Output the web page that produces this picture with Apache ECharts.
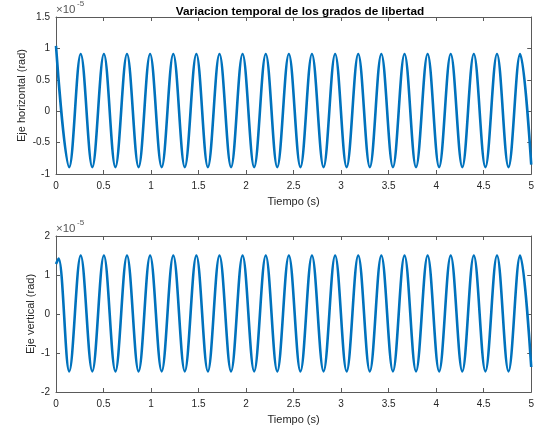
<!DOCTYPE html>
<html>
<head>
<meta charset="utf-8">
<script src="https://cdn.jsdelivr.net/npm/echarts@6/dist/echarts.min.js"></script>
<style>
html,body{margin:0;padding:0;background:#fff;}
#c{width:537px;height:433px;}
</style>
</head>
<body>
<div id="c"></div>
<script>
// Times (s) of the peaks / troughs, plus the final sample at t = 5
const tiempoPicos = [0.139, 0.260, 0.382, 0.504, 0.625, 0.747, 0.869, 0.990, 1.112, 1.234,
  1.355, 1.477, 1.598, 1.720, 1.842, 1.963, 2.085, 2.207, 2.328, 2.450,
  2.572, 2.693, 2.815, 2.937, 3.058, 3.180, 3.302, 3.423, 3.545, 3.667,
  3.788, 3.910, 4.031, 4.153, 4.275, 4.396, 4.518, 4.640, 4.761, 4.883, 5.0];

// Horizontal DOF (x 1e-5 rad): start value, then trough/peak values, then the end value
const tiempoH = [0].concat(tiempoPicos);
const ejeHorizontal = [1.04,
  -0.89, 0.91, -0.89, 0.91, -0.89, 0.91, -0.89, 0.91, -0.89, 0.91,
  -0.89, 0.91, -0.89, 0.91, -0.89, 0.91, -0.89, 0.91, -0.89, 0.91,
  -0.89, 0.91, -0.89, 0.91, -0.89, 0.91, -0.89, 0.91, -0.89, 0.91,
  -0.89, 0.91, -0.89, 0.91, -0.89, 0.91, -0.89, 0.91, -0.89, 0.91,
  -0.85];

// Vertical DOF (x 1e-5 rad)
const tiempoV = [0, 0.027].concat(tiempoPicos);
const ejeVertical = [1.28, 1.42,
  -1.47, 1.50, -1.47, 1.50, -1.47, 1.50, -1.47, 1.50, -1.47, 1.50,
  -1.47, 1.50, -1.47, 1.50, -1.47, 1.50, -1.47, 1.50, -1.47, 1.50,
  -1.47, 1.50, -1.47, 1.50, -1.47, 1.50, -1.47, 1.50, -1.47, 1.50,
  -1.47, 1.50, -1.47, 1.50, -1.47, 1.50, -1.47, 1.50, -1.47, 1.50,
  -1.36];

const xTicks = ['0','0.5','1','1.5','2','2.5','3','3.5','4','4.5','5'];

const FONT = 'Liberation Sans, Arial, Helvetica, sans-serif';
const TXT = '#262626';
const AX = '#5a5a5a';
const BLUE = '#0072BD';

function xAx(grid, pos, withLabels) {
  return {
    type: 'value', gridIndex: grid, position: pos, min: 0, max: 5, interval: 0.5,
    axisLine: {show: true, onZero: false, lineStyle: {color: AX, width: 1}},
    axisTick: {show: true, inside: true, length: 4, lineStyle: {color: AX}},
    axisLabel: {show: withLabels, margin: 7, fontSize: 10, fontFamily: FONT, color: TXT,
      formatter: v => xTicks[Math.round(v * 2)]},
    splitLine: {show: false},
    name: withLabels ? 'Tiempo (s)' : '',
    nameLocation: 'middle', nameGap: 22, nameMoveOverlap: false,
    nameTextStyle: {fontSize: 11, fontFamily: FONT, color: TXT}
  };
}
function yAx(grid, pos, withLabels, min, max, interval, name, gap) {
  return {
    type: 'value', gridIndex: grid, position: pos, min: min, max: max, interval: interval,
    axisLine: {show: true, onZero: false, lineStyle: {color: AX, width: 1}},
    axisTick: {show: true, inside: true, length: 4, lineStyle: {color: AX}},
    axisLabel: {show: withLabels, margin: 6, fontSize: 10, fontFamily: FONT, color: TXT},
    splitLine: {show: false},
    name: withLabels ? name : '',
    nameLocation: 'middle', nameGap: gap, nameRotate: 90, nameMoveOverlap: false,
    nameTextStyle: {fontSize: 11, fontFamily: FONT, color: TXT}
  };
}

const chart = echarts.init(document.getElementById('c'), null, {renderer: 'canvas'});
chart.setOption({
  animation: false,
  backgroundColor: '#fff',
  title: {
    text: 'Variacion temporal de los grados de libertad',
    left: 295, top: 1, textAlign: 'center',
    textStyle: {fontSize: 11.8, fontWeight: 'bold', fontFamily: FONT, color: '#000'}
  },
  grid: [
    {left: 56, right: 5, top: 17, height: 157},
    {left: 56, right: 5, top: 236, height: 156}
  ],
  xAxis: [xAx(0, 'bottom', true), xAx(0, 'top', false), xAx(1, 'bottom', true), xAx(1, 'top', false)],
  yAxis: [
    yAx(0, 'left', true, -1, 1.5, 0.5, 'Eje horizontal (rad)', 29),
    yAx(0, 'right', false, -1, 1.5, 0.5, '', 0),
    yAx(1, 'left', true, -2, 2, 1, 'Eje vertical (rad)', 20),
    yAx(1, 'right', false, -2, 2, 1, '', 0)
  ],
  graphic: [
    {type: 'text', left: 56, top: 4, style: {text: '×10', fontSize: 11.5, fontFamily: FONT, fill: '#555'}},
    {type: 'text', left: 77, top: 0, style: {text: '-5', fontSize: 8, fontFamily: FONT, fill: '#555'}},
    {type: 'text', left: 56, top: 223, style: {text: '×10', fontSize: 11.5, fontFamily: FONT, fill: '#555'}},
    {type: 'text', left: 77, top: 219, style: {text: '-5', fontSize: 8, fontFamily: FONT, fill: '#555'}}
  ],
  series: [
    {type: 'line', xAxisIndex: 0, yAxisIndex: 0, showSymbol: false, smooth: 0.36, clip: true,
      lineStyle: {color: BLUE, width: 2.6},
      data: tiempoH.map((t, i) => [t, ejeHorizontal[i]])},
    {type: 'line', xAxisIndex: 2, yAxisIndex: 2, showSymbol: false, smooth: 0.36, clip: true,
      lineStyle: {color: BLUE, width: 2.6},
      data: tiempoV.map((t, i) => [t, ejeVertical[i]])}
  ]
});
</script>
</body>
</html>
